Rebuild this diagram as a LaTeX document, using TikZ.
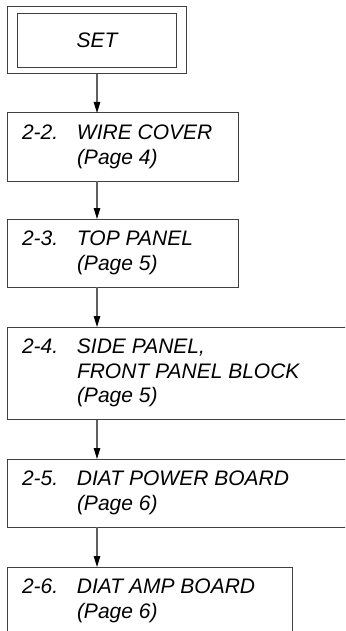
\documentclass[tikz,border=0pt]{standalone}
\usepackage{fontspec}
\setmainfont{Liberation Sans}
\usepackage{array}
\usetikzlibrary{arrows.meta,fit}

\definecolor{framegray}{RGB}{64,64,64}
\definecolor{arrowgray}{RGB}{96,96,96}

\tikzset{
  boxtext/.style={font=\itshape\fontsize{21}{24.2}\selectfont},
  entry/.style={boxtext, draw=framegray, line width=1pt, inner xsep=15pt, inner ysep=10pt, outer sep=0pt, anchor=north west},
  arr/.style={draw=arrowgray, line width=1.2pt, -{Triangle[length=11pt,width=6.5pt,black]}}
}

% number column + text column
\newcommand{\entrytext}[3]{\begin{tabular}{@{}p{55pt}@{}p{#1}@{}}#2\end{tabular}}

\begin{document}
\begin{tikzpicture}[x=1pt,y=1pt]
  \path[use as bounding box, clip] (0,0) rectangle (345,-631);

  % start box with double frame
  \node[boxtext, draw=framegray, line width=1pt, minimum width=159.4pt, minimum height=54pt, outer sep=0pt] (set) at (97,-40.3) {SET};
  \node[draw=framegray, line width=1pt, fit=(set), inner xsep=10.2pt, inner ysep=6.7pt, outer sep=0pt] (setouter) {};

  % steps
  \node[entry] (b22) at (7,-113) {\entrytext{146pt}{2-2. & WIRE COVER\\ & (Page 4)}{}};
  \node[entry] (b23) at (7,-219) {\entrytext{146pt}{2-3. & TOP PANEL\\ & (Page 5)}{}};
  \node[entry] (b24) at (7,-327) {\entrytext{265pt}{2-4. & SIDE PANEL,\\ & FRONT PANEL BLOCK\\ & (Page 5)}{}};
  \node[entry] (b25) at (7,-459) {\entrytext{265pt}{2-5. & DIAT POWER BOARD\\ & (Page 6)}{}};
  \node[entry] (b26) at (7,-567) {\entrytext{200pt}{2-6. & DIAT AMP BOARD\\ & (Page 6)}{}};

  % arrows
  \foreach \a/\b in {setouter/b22, b22/b23, b23/b24, b24/b25, b25/b26}
    \draw[arr] (\a.south -| setouter.south) -- (setouter.south |- \b.north);
\end{tikzpicture}
\end{document}
